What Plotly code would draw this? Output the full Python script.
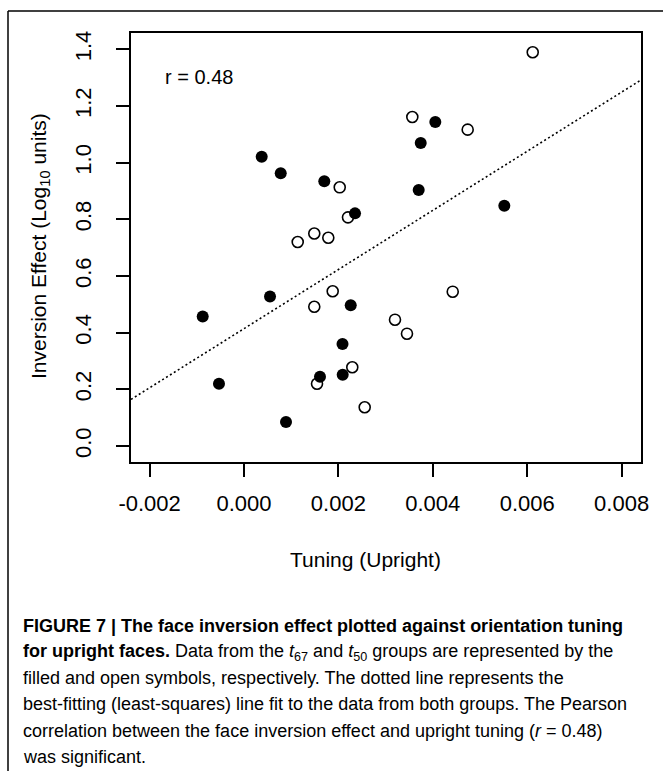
import numpy as np
import plotly.graph_objects as go

# ---------------- data ----------------
filled_x = [0.000375, 0.000778, 0.001701, 0.002352, 0.003701, 0.003744, 0.004053, 0.005515,
            0.000551, -0.000875, -0.000530, 0.002261, 0.002087, 0.002091, 0.001610, 0.000890]
filled_y = [1.021, 0.9625, 0.934, 0.821, 0.9035, 1.0694, 1.1435, 0.848,
            0.528, 0.457, 0.220, 0.4966, 0.360, 0.2517, 0.2446, 0.0847]

open_x = [0.006117, 0.003566, 0.004739, 0.002028, 0.002203, 0.001489, 0.001786, 0.001138,
          0.001879, 0.004422, 0.001489, 0.003199, 0.003453, 0.002294, 0.001547, 0.002557]
open_y = [1.3895, 1.161, 1.1164, 0.913, 0.807, 0.750, 0.735, 0.720,
          0.546, 0.5446, 0.4916, 0.4458, 0.3964, 0.2778, 0.2195, 0.1366]

x_ticks = [-0.002, 0.000, 0.002, 0.004, 0.006, 0.008]
x_tick_labels = ["-0.002", "0.000", "0.002", "0.004", "0.006", "0.008"]
y_ticks = [0.0, 0.2, 0.4, 0.6, 0.8, 1.0, 1.2, 1.4]
y_tick_labels = ["0.0", "0.2", "0.4", "0.6", "0.8", "1.0", "1.2", "1.4"]

x_title = "Tuning (Upright)"
y_title = "Inversion Effect (Log<sub>10</sub> units)"
r_label = "r = 0.48"

caption_lines = [
    "<b>FIGURE 7 | The face inversion effect plotted against orientation tuning</b>",
    "<b>for upright faces.</b> Data from the <i>t</i><sub>67</sub> and <i>t</i><sub>50</sub> groups are represented by the",
    "filled and open symbols, respectively. The dotted line represents the",
    "best-fitting (least-squares) line fit to the data from both groups. The Pearson",
    "correlation between the face inversion effect and upright tuning (<i>r</i> = 0.48)",
    "was significant.",
]

# ---------------- layout geometry ----------------
W, H = 663, 771
L, R, T, B = 131, 22, 33, 309
pw, ph = W - L - R, H - T - B


def pxx(x):
    return (x - L) / pw


def pxy(y):
    return (H - B - y) / ph


x_range = [-0.002394, 0.008411]
y_range = [-0.0565, 1.4576]

FONT = "Liberation Sans, Arial, Helvetica, sans-serif"

all_x = np.array(filled_x + open_x)
all_y = np.array(filled_y + open_y)
slope, intercept = np.polyfit(all_x, all_y, 1)
line_x = np.array(x_range)
line_y = slope * line_x + intercept

fig = go.Figure()
fig.add_trace(go.Scatter(
    x=line_x, y=line_y, mode="lines",
    line=dict(color="black", width=1.6, dash="2px,2.6px"),
    hoverinfo="skip", showlegend=False))
fig.add_trace(go.Scatter(
    x=filled_x, y=filled_y, mode="markers",
    marker=dict(symbol="circle", size=12, color="black", line=dict(width=0)),
    showlegend=False))
fig.add_trace(go.Scatter(
    x=open_x, y=open_y, mode="markers",
    marker=dict(symbol="circle-open", size=11, color="black", line=dict(width=1.6)),
    showlegend=False))

axis_common = dict(
    showline=True, linecolor="black", linewidth=1.5, mirror=True,
    ticks="outside", ticklen=13, tickwidth=1.5, tickcolor="black",
    showgrid=False, zeroline=False,
    tickfont=dict(family=FONT, size=22, color="black"),
)

fig.update_xaxes(range=x_range, tickvals=x_ticks, ticktext=x_tick_labels,
                 ticklabelstandoff=8, **axis_common)
fig.update_yaxes(range=y_range, tickvals=y_ticks, ticktext=y_tick_labels,
                 tickangle=-90, ticklabelstandoff=16, **axis_common)

annotations = [
    dict(x=pxx(365), y=pxy(559), xref="paper", yref="paper", text=x_title,
         showarrow=False, xanchor="center", yanchor="middle",
         font=dict(family=FONT, size=21, color="black")),
    dict(x=pxx(40), y=pxy(246), xref="paper", yref="paper", text=y_title,
         showarrow=False, xanchor="center", yanchor="middle", textangle=-90,
         font=dict(family=FONT, size=21, color="black")),
    dict(x=pxx(163), y=pxy(77), xref="paper", yref="paper", text=r_label,
         showarrow=False, xanchor="left", yanchor="middle",
         font=dict(family=FONT, size=20, color="black")),
]

cap_y = [626, 652, 678, 704, 731, 757]
for txt, yy in zip(caption_lines, cap_y):
    annotations.append(dict(
        x=pxx(21), y=pxy(yy), xref="paper", yref="paper", text=txt,
        showarrow=False, xanchor="left", yanchor="middle", align="left",
        font=dict(family=FONT, size=18, color="black")))

shapes = [
    dict(type="line", xref="paper", yref="paper", x0=pxx(8), x1=pxx(663),
         y0=pxy(11), y1=pxy(11), line=dict(color="black", width=1.5)),
    dict(type="line", xref="paper", yref="paper", x0=pxx(8), x1=pxx(8),
         y0=pxy(11), y1=pxy(771), line=dict(color="black", width=1.5)),
]

fig.update_layout(
    width=W, height=H,
    margin=dict(l=L, r=R, t=T, b=B, pad=0),
    paper_bgcolor="white", plot_bgcolor="white",
    annotations=annotations, shapes=shapes,
    showlegend=False,
)

fig.write_html("out.html")
